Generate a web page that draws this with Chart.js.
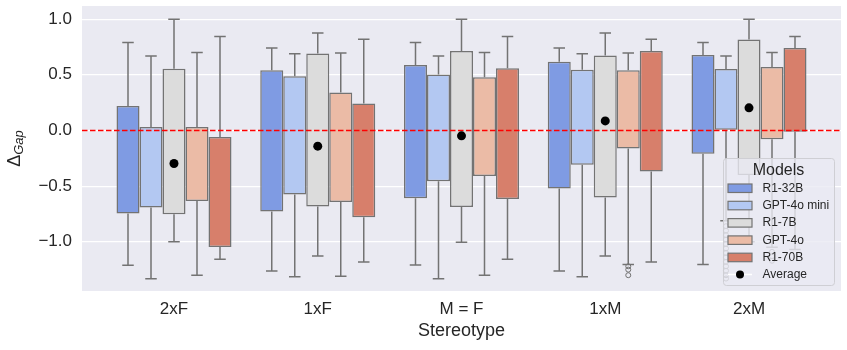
<!DOCTYPE html>
<html>
<head>
<meta charset="utf-8">
<script src="https://cdn.jsdelivr.net/npm/chart.js@4.4.1/dist/chart.umd.min.js"></script>
<style>
    html, body { margin: 0; padding: 0; background: #ffffff; }
    #wrap { width: 847px; height: 350px; }
</style>
</head>
<body>
<div id="wrap"><canvas id="gapChart" width="847" height="350"></canvas></div>
<script>
// categories on the x axis
const categories = ['2xF', '1xF', 'M = F', '1xM', '2xM'];
const models = ['R1-32B', 'GPT-4o mini', 'R1-7B', 'GPT-4o', 'R1-70B'];
const modelColors = ['#7f9be3', '#b3c8f2', '#dcdcdc', '#ebbba6', '#d77f6b'];

// rows = models, columns = categories
const whiskerHigh = [
    [0.79, 0.74, 0.79, 0.74, 0.79],
    [0.67, 0.69, 0.67, 0.69, 0.67],
    [1.00, 0.875, 1.00, 0.875, 1.00],
    [0.70, 0.695, 0.70, 0.695, 0.70],
    [0.845, 0.82, 0.845, 0.82, 0.845]
];
const q3 = [
    [0.22, 0.54, 0.587, 0.617, 0.677],
    [0.032, 0.486, 0.503, 0.545, 0.551],
    [0.554, 0.692, 0.713, 0.674, 0.818],
    [0.032, 0.342, 0.479, 0.54, 0.569],
    [-0.058, 0.243, 0.558, 0.713, 0.74]
];
const q1 = [
    [-0.746, -0.728, -0.609, -0.522, -0.21],
    [-0.692, -0.576, -0.456, -0.309, 0.0],
    [-0.753, -0.684, -0.687, -0.603, -0.40],
    [-0.633, -0.642, -0.408, -0.162, -0.078],
    [-1.047, -0.78, -0.615, -0.369, -0.012]
];
const whiskerLow = [
    [-1.21, -1.262, -1.209, -1.262, -1.205],
    [-1.331, -1.313, -1.331, -1.313, -0.81],
    [-1.00, -1.128, -1.004, -1.128, -1.00],
    [-1.30, -1.31, -1.30, -1.205, -1.05],
    [-1.157, -1.182, -1.157, -1.182, -1.07]
];
// average per stereotype
const averages = [-0.297, -0.141, -0.048, 0.086, 0.203];

// outliers: [model index, category index, values]
const outliers = [
    [3, 3, [-1.22, -1.25, -1.30]],
    [1, 4, [-0.86, -0.90, -0.94, -0.98, -1.02, -1.06, -1.10, -1.14, -1.18, -1.22, -1.26, -1.30, -1.33]],
    [3, 4, [-1.09, -1.13, -1.17]]
];

const textColor = '#262626';
const lineGray = '#737373';
Chart.defaults.font.family = '"Liberation Sans", Arial, Helvetica, sans-serif';
Chart.defaults.color = textColor;

const boxDatasets = models.map(function(name, m) {
    return {
        type: 'bar',
        label: name,
        data: categories.map(function(c, i) {
            return { x: i, y: [q1[m][i], q3[m][i]] };
        }),
        backgroundColor: modelColors[m],
        borderColor: lineGray,
        borderWidth: 1.5,
        borderSkipped: false,
        categoryPercentage: 0.8,
        barPercentage: 1.0,
        order: 1
    };
});

const avgDataset = {
    type: 'scatter',
    label: 'Average',
    data: averages.map(function(v, i) { return { x: i, y: v }; }),
    backgroundColor: '#000000',
    borderWidth: 0,
    pointRadius: 4.5,
    order: -1
};

function fmtTick(v) {
    const r = Math.round(v * 10) / 10;
    return (r < 0 ? '\u2212' : '') + Math.abs(r).toFixed(1);
}

const boxExtras = {
    id: 'boxExtras',
    beforeDraw(chart) {
        const a = chart.chartArea;
        const ctx = chart.ctx;
        ctx.save();
        ctx.fillStyle = '#eaeaf2';
        ctx.fillRect(a.left, a.top, a.right - a.left, a.bottom - a.top);
        ctx.restore();
    },
    beforeDatasetDraw(chart, args) {
        if (args.meta.type !== 'scatter') return;
        const ctx = chart.ctx;
        const y = chart.scales.y;
        const a = chart.chartArea;
        ctx.save();
        ctx.strokeStyle = lineGray;
        ctx.lineWidth = 1.5;
        // whiskers and caps
        models.forEach(function(name, m) {
            const meta = chart.getDatasetMeta(m);
            meta.data.forEach(function(el, i) {
                const cap = el.width * 0.25;
                ctx.beginPath();
                ctx.moveTo(el.x, y.getPixelForValue(q3[m][i]));
                ctx.lineTo(el.x, y.getPixelForValue(whiskerHigh[m][i]));
                ctx.moveTo(el.x, y.getPixelForValue(q1[m][i]));
                ctx.lineTo(el.x, y.getPixelForValue(whiskerLow[m][i]));
                ctx.moveTo(el.x - cap, y.getPixelForValue(whiskerHigh[m][i]));
                ctx.lineTo(el.x + cap, y.getPixelForValue(whiskerHigh[m][i]));
                ctx.moveTo(el.x - cap, y.getPixelForValue(whiskerLow[m][i]));
                ctx.lineTo(el.x + cap, y.getPixelForValue(whiskerLow[m][i]));
                ctx.stroke();
            });
        });
        // outliers
        ctx.lineWidth = 1;
        outliers.forEach(function(o) {
            const el = chart.getDatasetMeta(o[0]).data[o[1]];
            o[2].forEach(function(v) {
                ctx.beginPath();
                ctx.arc(el.x, y.getPixelForValue(v), 2.5, 0, Math.PI * 2);
                ctx.stroke();
            });
        });
        // zero reference line
        const y0 = y.getPixelForValue(0);
        ctx.strokeStyle = '#ff0000';
        ctx.lineWidth = 1.5;
        ctx.setLineDash([5.5, 2.5]);
        ctx.beginPath();
        ctx.moveTo(a.left, y0);
        ctx.lineTo(a.right, y0);
        ctx.stroke();
        ctx.restore();
    },
    afterDraw(chart) {
        const ctx = chart.ctx;
        const a = chart.chartArea;
        const fam = Chart.defaults.font.family;

        // y axis title: Delta with subscript Gap
        ctx.save();
        ctx.translate(20, (a.top + a.bottom) / 2);
        ctx.rotate(-Math.PI / 2);
        ctx.fillStyle = textColor;
        ctx.textBaseline = 'alphabetic';
        ctx.font = '18px ' + fam;
        const wD = ctx.measureText('\u0394').width;
        ctx.font = 'italic 13px ' + fam;
        const wG = ctx.measureText('Gap').width;
        const x0 = -(wD + wG) / 2;
        ctx.font = '18px ' + fam;
        ctx.fillText('\u0394', x0, 0);
        ctx.font = 'italic 13px ' + fam;
        ctx.fillText('Gap', x0 + wD, 3);
        ctx.restore();

        // legend in lower right of plot
        const w = 111, h = 127;
        const lx = a.right - 7 - w;
        const ly = a.bottom - 6 - h;
        ctx.save();
        ctx.fillStyle = 'rgba(234, 234, 242, 0.8)';
        ctx.strokeStyle = '#cfcfd4';
        ctx.lineWidth = 1;
        ctx.beginPath();
        ctx.roundRect(lx + 0.5, ly + 0.5, w, h, 3);
        ctx.fill();
        ctx.stroke();

        ctx.fillStyle = textColor;
        ctx.textAlign = 'center';
        ctx.textBaseline = 'alphabetic';
        ctx.font = '16px ' + fam;
        ctx.fillText('Models', lx + w / 2, ly + 17);

        ctx.textAlign = 'left';
        ctx.textBaseline = 'middle';
        ctx.font = '12px ' + fam;
        const rowStep = 17.3;
        models.forEach(function(name, m) {
            const ry = ly + 30 + m * rowStep;
            ctx.fillStyle = modelColors[m];
            ctx.fillRect(lx + 5, ry - 4, 24, 8.5);
            ctx.strokeStyle = lineGray;
            ctx.lineWidth = 1.2;
            ctx.strokeRect(lx + 5, ry - 4, 24, 8.5);
            ctx.fillStyle = textColor;
            ctx.fillText(name, lx + 39.5, ry + 0.5);
        });
        const ay = ly + 30 + 5 * rowStep;
        ctx.strokeStyle = '#ffffff';
        ctx.lineWidth = 1.5;
        ctx.beginPath();
        ctx.moveTo(lx + 5, ay);
        ctx.lineTo(lx + 29, ay);
        ctx.stroke();
        ctx.fillStyle = '#000000';
        ctx.beginPath();
        ctx.arc(lx + 17, ay, 4, 0, Math.PI * 2);
        ctx.fill();
        ctx.fillStyle = textColor;
        ctx.fillText('Average', lx + 39.5, ay + 0.5);
        ctx.restore();
    }
};

const ctx = document.getElementById('gapChart').getContext('2d');
const chart = new Chart(ctx, {
    type: 'bar',
    data: {
        datasets: boxDatasets.concat([avgDataset])
    },
    options: {
        responsive: false,
        animation: false,
        layout: { padding: { top: 6, right: 6, left: 0, bottom: 0 } },
        plugins: {
            legend: { display: false },
            tooltip: { enabled: false }
        },
        scales: {
            x: {
                type: 'linear',
                min: -0.64,
                max: 4.64,
                offset: false,
                grid: { display: false, drawTicks: false, offset: false },
                border: { display: false },
                ticks: {
                    stepSize: 1,
                    includeBounds: false,
                    autoSkip: false,
                    maxRotation: 0,
                    padding: 8,
                    font: { size: 17 },
                    color: textColor,
                    callback: function(value) {
                        return Number.isInteger(value) && categories[value] !== undefined ? categories[value] : '';
                    }
                },
                title: {
                    display: true,
                    text: 'Stereotype',
                    font: { size: 18 },
                    color: textColor,
                    padding: { top: 0, bottom: 8 }
                },
                afterFit: function(scale) {
                    scale.height = 59;
                    scale.paddingLeft = 0;
                    scale.paddingRight = 0;
                }
            },
            y: {
                min: -1.442,
                max: 1.118,
                grid: { color: '#ffffff', lineWidth: 1.2, drawTicks: false },
                border: { display: false },
                ticks: {
                    stepSize: 0.5,
                    includeBounds: false,
                    padding: 10,
                    font: { size: 17 },
                    color: textColor,
                    callback: fmtTick
                },
                afterFit: function(scale) {
                    scale.width = 82;
                    scale.paddingTop = 0;
                    scale.paddingBottom = 0;
                }
            }
        }
    },
    plugins: [boxExtras]
});
</script>
</body>
</html>
